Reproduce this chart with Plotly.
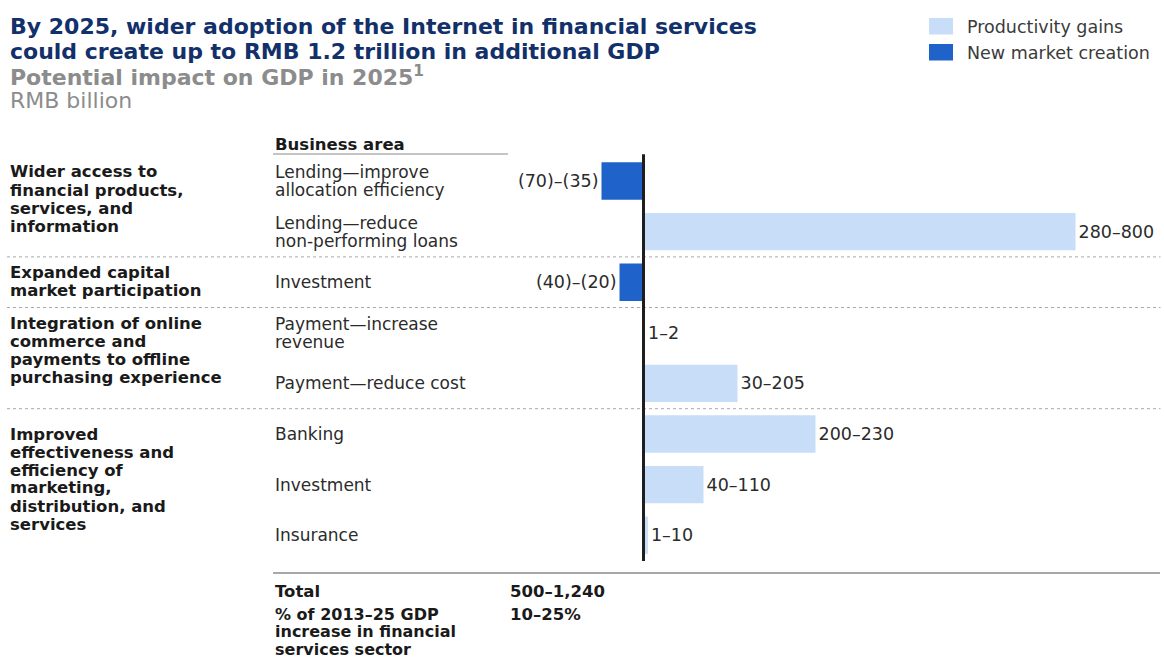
import plotly.graph_objects as go

# ---- data -------------------------------------------------------------
business_area = [
    ["Lending—improve", "allocation efficiency"],
    ["Lending—reduce", "non-performing loans"],
    ["Investment"],
    ["Payment—increase", "revenue"],
    ["Payment—reduce cost"],
    ["Banking"],
    ["Investment"],
    ["Insurance"],
]
impact_low = [-70, 280, -40, 1, 30, 200, 40, 1]      # RMB billion
impact_high = [-35, 800, -20, 2, 205, 230, 110, 10]  # RMB billion
impact_kind = ["new", "prod", "new", "prod", "prod", "prod", "prod", "prod"]

groups = [
    ["Wider access to", "financial products,", "services, and", "information"],
    ["Expanded capital", "market participation"],
    ["Integration of online", "commerce and", "payments to offline", "purchasing experience"],
    ["Improved", "effectiveness and", "efficiency of", "marketing,", "distribution, and", "services"],
]
group_first_row = [0, 2, 3, 5]

total_label = "Total"
total_value = "500–1,240"
share_label = ["% of 2013–25 GDP", "increase in financial", "services sector"]
share_value = "10–25%"

title_lines = ["By 2025, wider adoption of the Internet in financial services",
               "could create up to RMB 1.2 trillion in additional GDP"]
subtitle = "Potential impact on GDP in 2025<sup>1</sup>"
units = "RMB billion"
legend_names = {"prod": "Productivity gains", "new": "New market creation"}

# ---- styling ----------------------------------------------------------
W, H = 1164, 659
FONT = "DejaVu Sans"
LIGHT = "#c8ddf7"
DARK = "#1f62c9"
NAVY = "#12306a"
GREY = "#8c8c8c"
TXT = "#2b2b2b"
INK = "#1a1a1a"
ROW0_PX, ROW_PX = 181.0, 50.6     # pixel centre of first row, row pitch
ZERO_PX, PX_PER_UNIT = 643.5, 0.8


def fmt(v):
    return f"({abs(v)})" if v < 0 else f"{v:,}"


labels = [f"{fmt(lo)}–{fmt(hi)}" for lo, hi in zip(impact_low, impact_high)]
mid = [(lo + hi) / 2 for lo, hi in zip(impact_low, impact_high)]
rows = list(range(len(business_area)))

fig = go.Figure()
for kind, colour in (("prod", LIGHT), ("new", DARK)):
    idx = [i for i, k in enumerate(impact_kind) if k == kind]
    fig.add_trace(go.Bar(
        orientation="h",
        y=[rows[i] for i in idx],
        x=[mid[i] for i in idx],
        text=[labels[i] for i in idx],
        textposition="outside",
        textfont=dict(family=FONT, size=17.5, color=TXT),
        constraintext="none",
        cliponaxis=False,
        width=0.74,
        marker=dict(color=colour, line=dict(width=0)),
        name=legend_names[kind],
        showlegend=False,
        hovertemplate="%{text}<extra>" + legend_names[kind] + "</extra>",
    ))


def py(px):
    """pixel row -> paper y"""
    return 1 - px / H


def px_x(px):
    return px / W


def row_px(i):
    return ROW0_PX + ROW_PX * i


annotations = []


def text(x_px, y_px, s, size, color=TXT, bold=False, anchor="left"):
    annotations.append(dict(
        xref="paper", yref="paper", x=px_x(x_px), y=py(y_px),
        text=f"<b>{s}</b>" if bold else s, showarrow=False,
        xanchor=anchor, yanchor="middle",
        font=dict(family=FONT, size=size, color=color),
    ))


# title block
text(8, 27, title_lines[0], 22, NAVY, bold=True)
text(8, 51.5, title_lines[1], 22, NAVY, bold=True)
text(8, 76.5, subtitle, 22, GREY, bold=True)
text(8, 100.5, units, 22, GREY)

# legend
shapes = []
for k, (kind, colour) in enumerate((("prod", LIGHT), ("new", DARK))):
    top = 18 + 26 * k
    shapes.append(dict(type="rect", xref="paper", yref="paper",
                       x0=px_x(929), x1=px_x(953), y0=py(top), y1=py(top + 16.5),
                       fillcolor=colour, line=dict(width=0)))
    text(965, top + 9, legend_names[kind], 17.5, "#3a3a3a")

# business-area column
text(273, 144, "Business area", 16.5, INK, bold=True)
shapes.append(dict(type="line", xref="paper", yref="paper",
                   x0=px_x(273), x1=px_x(508), y0=py(154), y1=py(154),
                   line=dict(color="#8a8a8a", width=1)))
LINE = 18
for i, lines in enumerate(business_area):
    c = row_px(i)
    start = c - LINE * (len(lines) - 1) / 2
    for j, s in enumerate(lines):
        text(273, start + LINE * j, s, 17)

# group column
for g, (lines, r0) in enumerate(zip(groups, group_first_row)):
    first = business_area[r0]
    if len(lines) == 2 and len(first) == 1:
        start = row_px(r0) - 18 * 0.5 - 1
    else:
        start = row_px(r0) - LINE * (len(first) - 1) / 2
    for j, s in enumerate(lines):
        text(8, start + 18 * j, s, 16.5, INK, bold=True)

# dotted separators between groups
for r0 in group_first_row[1:]:
    y = r0 - 0.5
    shapes.append(dict(type="line", xref="paper", yref="y",
                       x0=0.006, x1=0.997, y0=y, y1=y,
                       line=dict(color="#a8a8a8", width=1, dash="dot")))

# zero line
shapes.append(dict(type="line", xref="x", yref="y", x0=0, x1=0,
                   y0=-0.53, y1=len(rows) - 0.49,
                   line=dict(color="#1e1e1e", width=3)))

# totals
shapes.append(dict(type="line", xref="paper", yref="paper",
                   x0=px_x(273), x1=px_x(1160), y0=py(573), y1=py(573),
                   line=dict(color="#8a8a8a", width=1.5)))
text(273, 591, total_label, 16.5, INK, bold=True)
text(508, 591, total_value, 16.5, INK, bold=True)
for j, s in enumerate(share_label):
    text(273, 614 + 17.5 * j, s, 16, INK, bold=True)
text(508, 614, share_value, 16.5, INK, bold=True)

x_lo = -ZERO_PX / PX_PER_UNIT
x_hi = (W - ZERO_PX) / PX_PER_UNIT
y_top = -ROW0_PX / ROW_PX
y_bot = (H - ROW0_PX) / ROW_PX

fig.update_layout(
    width=W, height=H,
    margin=dict(l=0, r=0, t=0, b=0, pad=0),
    paper_bgcolor="white", plot_bgcolor="white",
    barmode="overlay",
    xaxis=dict(range=[x_lo, x_hi], visible=False, fixedrange=True),
    yaxis=dict(range=[y_bot, y_top], visible=False, fixedrange=True),
    annotations=annotations,
    shapes=shapes,
    showlegend=False,
)

fig.write_html("out.html")
